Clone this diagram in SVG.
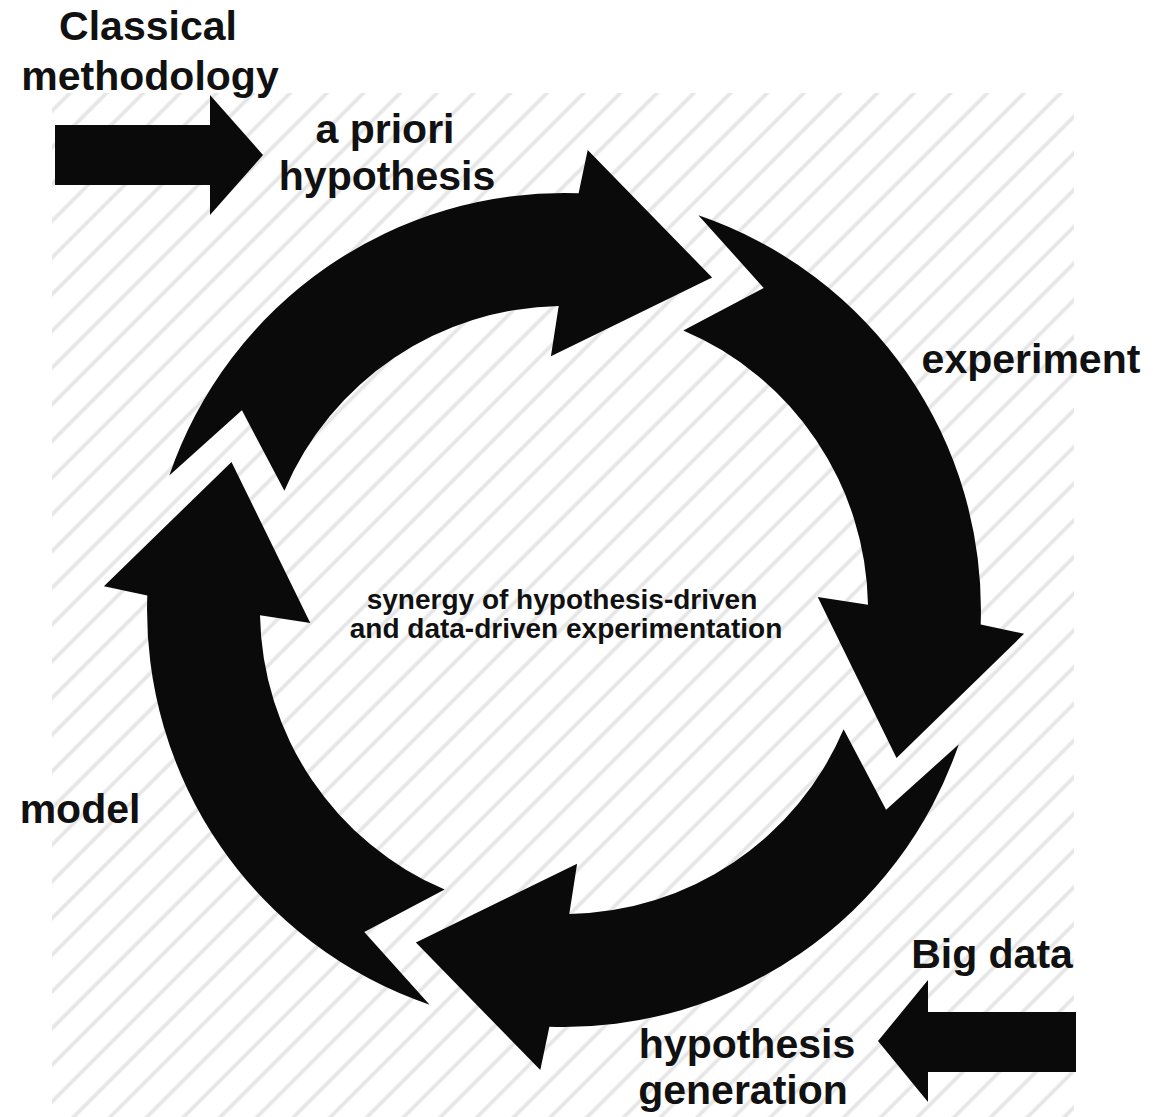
<svg xmlns="http://www.w3.org/2000/svg" width="1153" height="1117" viewBox="0 0 1153 1117">
<style>
.lbl{font-family:"Liberation Sans",Arial,sans-serif;font-weight:bold;font-size:41px;fill:#111;text-anchor:middle}
.mid{font-family:"Liberation Sans",Arial,sans-serif;font-weight:bold;font-size:28px;fill:#111;text-anchor:middle}
.blk{fill:#0a0a0a}
</style>
<defs>
<pattern id="hatch" patternUnits="userSpaceOnUse" width="25.95" height="25.95" patternTransform="rotate(45)">
<rect x="9.5" y="-1" width="3.8" height="28" fill="#e6e6e6"/>
</pattern>
<path id="arc-arrow" d="M 134.4,-394.7 A 417 417 0 0 1 416.7,14.6 L 460.1,23.7 L 332.5,148.1 L 253.7,-13.1 L 304.0,-5.3 A 304 304 0 0 0 119.3,-279.6 L 199.7,-322.1 Z"/>
</defs>
<rect width="1153" height="1117" fill="#fff"/>
<rect x="52" y="93" width="1022" height="1024" fill="url(#hatch)"/>

<g id="cycle" transform="translate(564,610)">
<g id="arrow-experiment"><use href="#arc-arrow" class="blk"/></g>
<g id="arrow-hypothesis-generation" transform="rotate(90)"><use href="#arc-arrow" class="blk"/></g>
<g id="arrow-model" transform="rotate(180)"><use href="#arc-arrow" class="blk"/></g>
<g id="arrow-a-priori" transform="rotate(270)"><use href="#arc-arrow" class="blk"/></g>
</g>

<g id="connectors">
<polygon id="in-classical" class="blk" points="55,125 210,125 210,95 263,155 210,215 210,185 55,185"/>
<polygon id="in-bigdata" class="blk" points="1076,1012 928,1012 928,980 878,1041 928,1102 928,1072 1076,1072"/>
</g>

<g id="node-classical"><text class="lbl" x="148" y="40">Classical</text><text class="lbl" x="150" y="90">methodology</text></g>
<g id="node-apriori"><text class="lbl" x="385" y="143">a priori</text><text class="lbl" x="387" y="190">hypothesis</text></g>
<g id="node-experiment"><text class="lbl" x="1031" y="373">experiment</text></g>
<g id="node-model"><text class="lbl" x="80" y="823">model</text></g>
<g id="node-bigdata"><text class="lbl" x="992" y="968">Big data</text></g>
<g id="node-hypgen"><text class="lbl" x="747" y="1058">hypothesis</text><text class="lbl" x="743" y="1104">generation</text></g>
<g id="node-center"><text class="mid" x="562" y="609">synergy of hypothesis-driven</text><text class="mid" x="566" y="638">and data-driven experimentation</text></g>
</svg>
